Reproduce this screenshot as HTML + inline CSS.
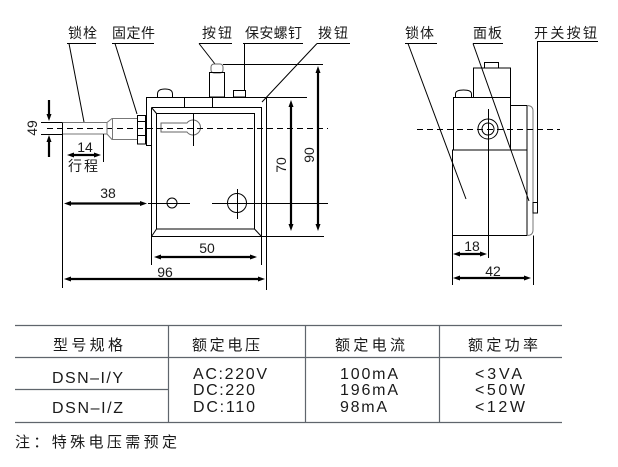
<!DOCTYPE html>
<html><head><meta charset="utf-8"><style>
html,body{margin:0;padding:0;background:#fff;}
svg{display:block;}
text{font-family:"Liberation Sans","Noto Sans CJK SC",sans-serif;fill:#1a1a1a;}
</style></head><body>
<svg width="618" height="467" viewBox="0 0 618 467" xmlns="http://www.w3.org/2000/svg">
<rect width="618" height="467" fill="#fff"/>

<!-- labels -->
<g font-size="14">
<text x="68" y="38" textLength="29" lengthAdjust="spacing">锁栓</text>
<text x="112" y="38" textLength="43" lengthAdjust="spacing">固定件</text>
<text x="202" y="38" textLength="30" lengthAdjust="spacing">按钮</text>
<text x="245" y="38" textLength="57" lengthAdjust="spacing">保安螺钉</text>
<text x="318" y="38" textLength="30" lengthAdjust="spacing">拨钮</text>
<text x="405" y="38" textLength="29" lengthAdjust="spacing">锁体</text>
<text x="473" y="38" textLength="29" lengthAdjust="spacing">面板</text>
<text x="534" y="38" textLength="63" lengthAdjust="spacing">开关按钮</text>
<text x="68" y="171" textLength="30" lengthAdjust="spacing">行程</text>
</g>

<g stroke="#000" stroke-width="1" fill="none">
<!-- underlines and leaders -->
<path d="M67 43.5H96 M112 43.5H154 M199 43.5H232 M243 43.5H303 M317 43.5H350 M405 43.5H437 M473 43.5H503 M537 41.5H598"/>
<path d="M69 43.5L84 122 M115 43.5L137 114 M199 43.5L215 64 M244.5 43.5V90 M317 43.5L262 102 M408 43.5L466 199 M473 43.5L529 201 M537.5 41.5V213"/>

<!-- left drawing -->
<rect x="211" y="64" width="12" height="9" rx="3" stroke="#666"/>
<rect x="209.5" y="72.5" width="15" height="24.5"/>
<path d="M223 64.5H323"/>
<rect x="233.5" y="90.5" width="12" height="6.5"/>
<path d="M157.5 97V94 Q157.5 89 165 89 Q172.5 89 172.5 94V97"/>
<path d="M146 97.5H307"/>
<path d="M146.5 97.5V145.5H151"/>
<path d="M184.5 97.5V107 M212.5 97.5V107"/>
<path d="M151.5 107.5H261.5V265 M151.5 107.5V265 M151 236.5H324"/>
<rect x="156.5" y="113.5" width="98" height="115.5"/>
<path d="M151.5 107.5L156.5 113.5 M151.5 236.5L156.5 229 M261.5 236.5L254.5 229"/>
<path d="M266.5 97.5V290"/>
<path d="M161 123 H187 A7.5 7.5 0 1 1 187 132 H161 Z" stroke="#666"/>
<path d="M193.5 113V146"/>
<circle cx="172" cy="203" r="5"/>
<path d="M148 203.5H190"/>
<circle cx="237" cy="203" r="9.5"/>
<path d="M212 203.5H328 M237.5 189V219"/>
<path d="M47 128.5H328" stroke-dasharray="6 4"/>
<!-- bolt -->
<rect x="62.5" y="122.5" width="44.5" height="11.5" stroke="#777"/>
<path d="M107 122.5L112 118.5H137 M107 134L112 139.5H137 M112.5 118.5V139.5" stroke="#777"/>
<rect x="137.5" y="115.5" width="8" height="28.5"/>
<path d="M137.5 121.5H145.5 M137.5 135.5H145.5"/>
<path d="M41 122.5H62 M41 134.5H62"/>
<path d="M103.5 134V162"/>
<path d="M62.5 122.5V288"/>

<!-- right drawing -->
<rect x="484.5" y="62.5" width="14" height="5.5"/>
<rect x="473.5" y="68" width="37" height="29.5"/>
<path d="M455.5 98V94 Q455.5 90 463.5 90 Q471.5 90 471.5 94V98"/>
<rect x="453.5" y="97.5" width="57" height="52.5"/>
<rect x="452.5" y="150" width="74.5" height="85.5"/>
<path d="M510.5 105.5H527 M527 105.5V150"/>
<path d="M527 105.5 Q533 105.5 533 111 V230 Q533 235.5 527 235.5" stroke="#777"/>
<rect x="533" y="202.5" width="4.5" height="10.5"/>
<circle cx="488" cy="129" r="10"/>
<circle cx="488" cy="129" r="6"/>
<path d="M488.5 109V258"/>
<path d="M417 129.5H560" stroke-dasharray="6 4"/>
<path d="M452.5 235.5V285 M533.5 235.5V285"/>
</g>

<!-- dimension arrows -->
<g stroke="#000" stroke-width="2.2" fill="none">
<path d="M49 100V115 M49 157V141"/>
<path d="M73 155H95 M70 203.5H141 M160 257H251 M70 279H259 M291 106V225 M318 72V225 M459 254H481 M459 278H525"/>
</g>
<g fill="#000" stroke="none">
<polygon points="46.5,114 51.5,114 49,121"/>
<polygon points="46.5,142 51.5,142 49,135"/>
<polygon points="67,155 74,152.5 74,157.5"/><polygon points="101,155 94,152.5 94,157.5"/>
<polygon points="64,203.5 71,201 71,206"/><polygon points="147,203.5 140,201 140,206"/>
<polygon points="154,257 161,254.5 161,259.5"/><polygon points="257,257 250,254.5 250,259.5"/>
<polygon points="64,279 71,276.5 71,281.5"/><polygon points="265,279 258,276.5 258,281.5"/>
<polygon points="291,100 288.5,107 293.5,107"/><polygon points="291,231 288.5,224 293.5,224"/>
<polygon points="318,66 315.5,73 320.5,73"/><polygon points="318,231 315.5,224 320.5,224"/>
<polygon points="453,254 460,251.5 460,256.5"/><polygon points="487,254 480,251.5 480,256.5"/>
<polygon points="453,278 460,275.5 460,280.5"/><polygon points="531,278 524,275.5 524,280.5"/>
</g>

<!-- dimension numbers -->
<g font-size="14" text-anchor="middle">
<text x="85" y="152">14</text>
<text x="108" y="198">38</text>
<text x="207" y="253">50</text>
<text x="165" y="277">96</text>
<text x="472" y="251">18</text>
<text x="493" y="276">42</text>
<text x="32" y="133" transform="rotate(-90 32 128)">49</text>
<text x="281" y="170" transform="rotate(-90 281 165)">70</text>
<text x="309" y="160" transform="rotate(-90 309 155)">90</text>
</g>

<!-- table -->
<g stroke="#5f656c" stroke-width="1.2" fill="none">
<path d="M15 325.5H562 M15 357.5H562 M15 389.5H168 M15 422.5H562 M168.5 325V422 M305.5 325V422 M439.5 325V422"/>
</g>
<g font-size="15">
<text x="53" y="350" textLength="70" lengthAdjust="spacing">型号规格</text>
<text x="192" y="350" textLength="68" lengthAdjust="spacing">额定电压</text>
<text x="335" y="350" textLength="70" lengthAdjust="spacing">额定电流</text>
<text x="468" y="350" textLength="70" lengthAdjust="spacing">额定功率</text>
</g>
<g font-size="16">
<text x="52" y="383" textLength="71" lengthAdjust="spacing">DSN–I/Y</text>
<text x="52" y="413" textLength="71" lengthAdjust="spacing">DSN–I/Z</text>
<text x="193" y="379" textLength="74" lengthAdjust="spacing">AC:220V</text>
<text x="193" y="395" textLength="62" lengthAdjust="spacing">DC:220</text>
<text x="193" y="412" textLength="62" lengthAdjust="spacing">DC:110</text>
<text x="340" y="379" textLength="58" lengthAdjust="spacing">100mA</text>
<text x="340" y="395" textLength="58" lengthAdjust="spacing">196mA</text>
<text x="340" y="412" textLength="47" lengthAdjust="spacing">98mA</text>
<text x="475" y="379" textLength="47" lengthAdjust="spacing">&lt;3VA</text>
<text x="475" y="395" textLength="50" lengthAdjust="spacing">&lt;50W</text>
<text x="475" y="412" textLength="50" lengthAdjust="spacing">&lt;12W</text>
</g>
<text x="15" y="447" font-size="15" textLength="162" lengthAdjust="spacing">注：特殊电压需预定</text>
</svg>
</body></html>
